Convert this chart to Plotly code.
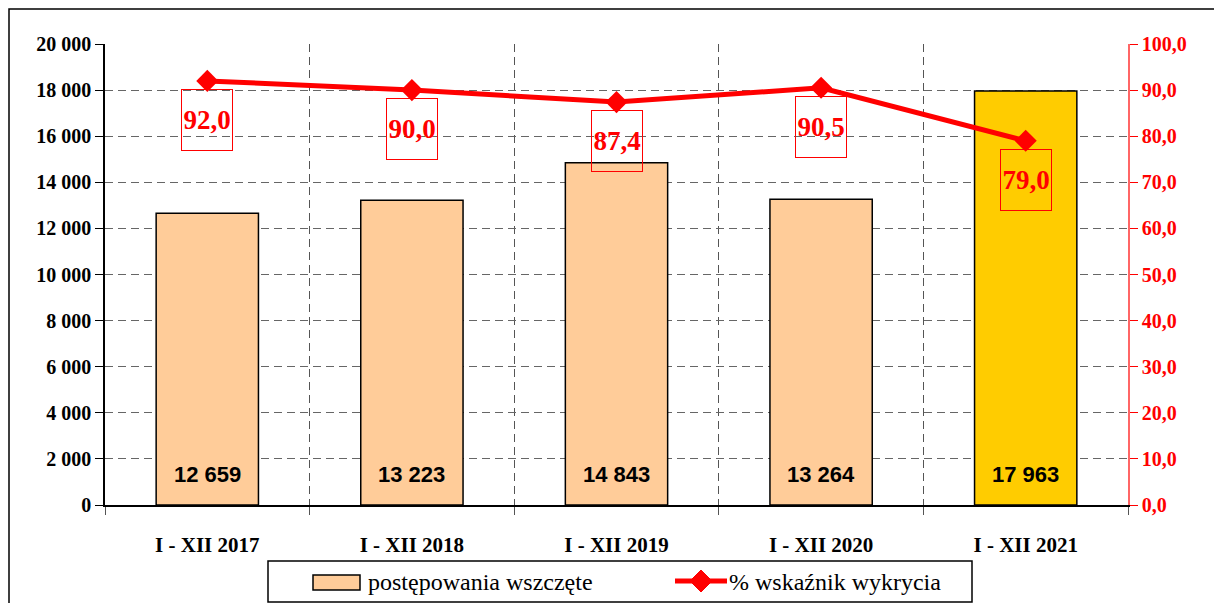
import plotly.graph_objects as go

categories = ["I - XII 2017", "I - XII 2018", "I - XII 2019", "I - XII 2020", "I - XII 2021"]
cases = [12659, 13223, 14843, 13264, 17963]
detection = [92.0, 90.0, 87.4, 90.5, 79.0]
bar_colors = ["#FFCC99", "#FFCC99", "#FFCC99", "#FFCC99", "#FFCC00"]
series_names = ["postępowania wszczęte", "% wskaźnik wykrycia"]

OFF = 8  # default page body margin
W, H = 1222 - OFF, 603 - OFF
PLOT_L, PLOT_R, PLOT_T, PLOT_B = 105, 1128, 44, 505  # page coordinates
L, T = PLOT_L - OFF, PLOT_T - OFF
R, B = W - (PLOT_R - OFF), H - (PLOT_B - OFF)
PW, PH = PLOT_R - PLOT_L, PLOT_B - PLOT_T


def px(x):
    return (x - PLOT_L) / PW


def py(y):
    return (PLOT_B - y) / PH


SERIF = "Liberation Serif, Times New Roman, serif"
SANS = "Liberation Sans, Arial, sans-serif"

fig = go.Figure()
fig.add_trace(go.Bar(
    x=categories, y=cases, marker=dict(color=bar_colors, line=dict(color="black", width=1.5)),
    width=0.5, name=series_names[0], showlegend=False, hoverinfo="skip",
))
fig.add_trace(go.Scatter(
    x=categories, y=detection, yaxis="y2", mode="lines+markers", name=series_names[1],
    line=dict(color="#FF0000", width=5), marker=dict(symbol="diamond", size=17, color="#FF0000"),
    showlegend=False, cliponaxis=False,
))

annotations = []
for c, v in zip(categories, cases):
    annotations.append(dict(
        x=c, y=0, xref="x", yref="y", yanchor="middle", yshift=31, showarrow=False,
        text=f"{v:,}".replace(",", " "),
        font=dict(family=SANS, size=22, color="black", weight="bold"),
    ))
for c, v in zip(categories, detection):
    annotations.append(dict(
        x=c, y=v, xref="x", yref="y2", yanchor="top", yshift=-8, showarrow=False,
        text=f"{v:.1f}".replace(".", ","), width=50, height=60,
        bordercolor="#FF0000", borderwidth=1, borderpad=0,
        font=dict(family=SERIF, size=27, color="#FF0000", weight="bold"),
    ))

# legend (drawn manually)
annotations.append(dict(
    x=px(366), y=py(582), xref="paper", yref="paper", xanchor="left", yanchor="middle",
    showarrow=False, text=series_names[0], font=dict(family=SERIF, size=24, color="black"),
))
annotations.append(dict(
    x=px(727), y=py(582), xref="paper", yref="paper", xanchor="left", yanchor="middle",
    showarrow=False, text=series_names[1], font=dict(family=SERIF, size=24, color="black"),
))

shapes = [
    # outer frame
    dict(type="rect", xref="paper", yref="paper", x0=px(9), x1=px(1400), y0=py(9), y1=py(800),
         line=dict(color="black", width=1.5), fillcolor="rgba(0,0,0,0)", layer="below"),
    # legend box
    dict(type="rect", xref="paper", yref="paper", x0=px(268), x1=px(972), y0=py(561), y1=py(602),
         line=dict(color="black", width=1.5), fillcolor="white"),
    # legend swatch
    dict(type="rect", xref="paper", yref="paper", x0=px(313), x1=px(360), y0=py(575), y1=py(590),
         line=dict(color="black", width=1.5), fillcolor=bar_colors[0]),
    # legend line
    dict(type="line", xref="paper", yref="paper", x0=px(675), x1=px(727), y0=py(581), y1=py(581),
         line=dict(color="#FF0000", width=5)),
    # legend diamond
    dict(type="path", xref="paper", yref="paper",
         path=f"M {px(701)},{py(570)} L {px(712)},{py(581)} L {px(701)},{py(592)} L {px(690)},{py(581)} Z",
         line=dict(color="#FF0000", width=1), fillcolor="#FF0000"),
]

fig.update_layout(
    width=W, height=H, autosize=False,
    margin=dict(l=L, r=R, t=T, b=B),
    paper_bgcolor="white", plot_bgcolor="white",
    separators=", ",
    showlegend=False,
    annotations=annotations,
    shapes=shapes,
    xaxis=dict(
        type="category", range=[-0.5, 4.5], tickson="boundaries",
        showgrid=True, gridcolor="#555555", griddash="8px,5px", gridwidth=1,
        ticks="outside", ticklen=8, tickcolor="#555555",
        showline=True, linecolor="black", linewidth=1.5,
        tickfont=dict(family=SERIF, size=21, color="black", weight="bold"),
        ticklabelstandoff=20,
    ),
    yaxis=dict(
        range=[0, 20000], dtick=2000, tickformat=",d",
        showgrid=True, gridcolor="#666666", griddash="8px,5px", gridwidth=1,
        zeroline=False,
        ticks="outside", ticklen=8, tickcolor="black",
        showline=True, linecolor="black", linewidth=1.5,
        tickfont=dict(family=SERIF, size=20, color="black", weight="bold"),
    ),
    yaxis2=dict(
        range=[0, 100], dtick=10, tickformat=".1f", overlaying="y", side="right",
        showgrid=False, zeroline=False,
        ticks="outside", ticklen=8, tickcolor="#FF0000",
        showline=True, linecolor="#FF6666", linewidth=1.5,
        tickfont=dict(family=SERIF, size=20, color="#FF0000", weight="bold"),
    ),
)

fig.write_html("out.html")
